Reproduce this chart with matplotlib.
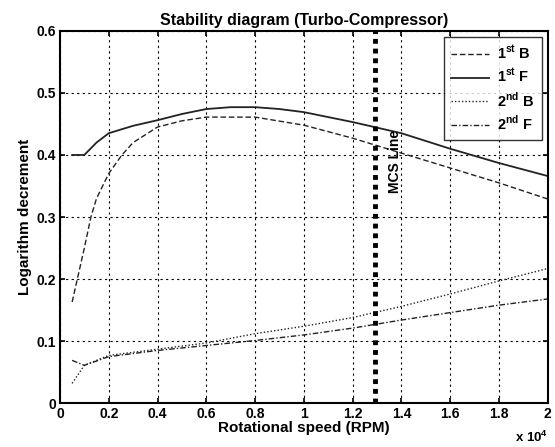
import matplotlib.pyplot as plt
import numpy as np

plt.rcParams['font.family'] = ['Liberation Sans', 'DejaVu Sans']
plt.rcParams['font.weight'] = 'bold'
plt.rcParams['mathtext.fontset'] = 'custom'
plt.rcParams['mathtext.rm'] = 'Liberation Sans:bold'
plt.rcParams['mathtext.bf'] = 'Liberation Sans:bold'

# rotational speed, in units of 1e4 RPM
speed_1f = [0.05, 0.1, 0.15, 0.2, 0.3, 0.4, 0.5, 0.6, 0.7, 0.8, 0.9, 1.0, 1.2, 1.4, 1.6, 1.8, 2.0]
first_f = [0.40, 0.40, 0.42, 0.435, 0.447, 0.456, 0.466, 0.474, 0.477, 0.477, 0.474, 0.469, 0.453, 0.435, 0.41, 0.387, 0.366]

speed_1b = [0.05, 0.1, 0.127, 0.15, 0.2, 0.254, 0.3, 0.4, 0.5, 0.6, 0.8, 1.0, 1.2, 1.4, 1.6, 1.8, 2.0]
first_b = [0.163, 0.25, 0.30, 0.33, 0.37, 0.40, 0.42, 0.445, 0.455, 0.461, 0.461, 0.448, 0.427, 0.403, 0.379, 0.355, 0.329]

speed_2 = [0.05, 0.1, 0.2, 0.4, 0.6, 0.8, 1.0, 1.2, 1.4, 1.6, 1.8, 2.0]
second_b = [0.032, 0.061, 0.077, 0.087, 0.097, 0.112, 0.124, 0.138, 0.156, 0.176, 0.197, 0.217]
second_f = [0.069, 0.061, 0.075, 0.085, 0.093, 0.101, 0.110, 0.121, 0.134, 0.146, 0.158, 0.168]

mcs_speed = 1.29

fig = plt.figure(figsize=(5.55, 4.47), dpi=100)
ax = fig.add_axes([0.108, 0.098, 0.879, 0.833])

ax.plot(speed_1b, first_b, color='#222222', linestyle=(0, (4, 2)), lw=1.0, label=r'1$^{\mathrm{st}}$ B')
ax.plot(speed_1f, first_f, color='#222222', linestyle='-', lw=1.3, label=r'1$^{\mathrm{st}}$ F')
ax.plot(speed_2, second_b, color='#222222', linestyle=(0, (1, 1.5)), lw=1.0, label=r'2$^{\mathrm{nd}}$ B')
ax.plot(speed_2, second_f, color='#222222', linestyle=(0, (4, 1.5, 1, 1.5)), lw=1.0, label=r'2$^{\mathrm{nd}}$ F')

ax.axvline(mcs_speed, color='black', linestyle=(0, (1, 1)), lw=3.5)
ax.text(1.375, 0.39, 'MCS Line', rotation=90, ha='center', va='center', fontsize=10)

ax.set_xlim(0, 2)
ax.set_ylim(0, 0.6)
ax.set_xticks(np.arange(0, 2.01, 0.2))
ax.set_xticklabels(['0', '0.2', '0.4', '0.6', '0.8', '1', '1.2', '1.4', '1.6', '1.8', '2'])
ax.set_yticks(np.arange(0, 0.61, 0.1))
ax.set_yticklabels(['0', '0.1', '0.2', '0.3', '0.4', '0.5', '0.6'])
ax.tick_params(direction='in', top=True, right=True, labelsize=10, width=1.2, pad=3)
ax.grid(True, color='black', linestyle=(0, (2, 3)), lw=0.8)
for s in ax.spines.values():
    s.set_linewidth(1.5)

ax.set_xlabel('Rotational speed (RPM)', fontsize=11, fontweight='bold', labelpad=0)
ax.set_ylabel('Logarithm decrement', fontsize=11, fontweight='bold', labelpad=3)
ax.set_title('Stability diagram (Turbo-Compressor)', fontsize=11.5, fontweight='bold', pad=4)
fig.text(0.988, 0.005, r'x 10$^4$', ha='right', va='bottom', fontsize=9.5)

leg = ax.legend(loc='upper right', fontsize=10.5, fancybox=False, edgecolor='black',
                handlelength=2.6, handletextpad=0.6, borderaxespad=0.4, labelspacing=0.35,
                borderpad=0.5)
leg.get_frame().set_linewidth(1.0)

fig.savefig('out.png', dpi=100)
